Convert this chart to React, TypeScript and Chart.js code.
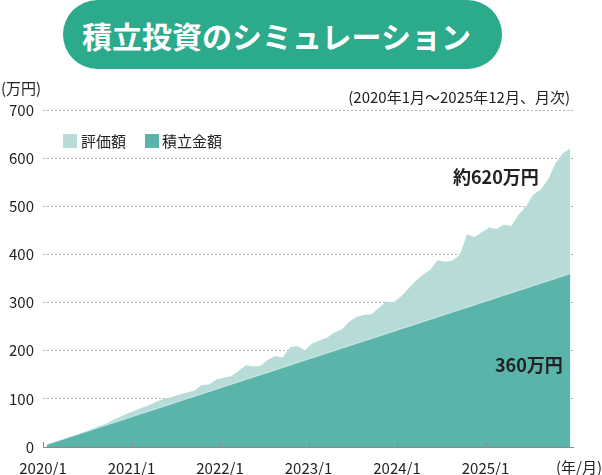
import React, { useEffect, useRef } from "react";
import { Chart, registerables } from "chart.js";

Chart.register(...registerables);

const FONT = '"Noto Sans CJK JP", "Noto Sans", sans-serif';

const TITLE = "積立投資のシミュレーション";
const UNIT_LABEL = "(万円)";
const PERIOD_LABEL = "(2020年1月～2025年12月、月次)";
const X_UNIT_LABEL = "(年/月)";
const SERIES_NAMES = ["評価額", "積立金額"];
const VALUATION_NOTE = "約620万円";
const ACCUMULATED_NOTE = "360万円";

const YEAR_TICK_LABELS = ["2020/1", "2021/1", "2022/1", "2023/1", "2024/1", "2025/1"];
const YEAR_TICK_MONTH_INDEX = [0, 12, 24, 36, 48, 60];

const Y_MIN = 0;
const Y_MAX = 700;
const Y_STEP = 100;

// 積立金額 (万円), monthly 2020/1 .. 2025/12
const ACCUMULATED = [
  5, 10, 15, 20, 25, 30, 35, 40, 45, 50, 55, 60,
  65, 70, 75, 80, 85, 90, 95, 100, 105, 110, 115, 120,
  125, 130, 135, 140, 145, 150, 155, 160, 165, 170, 175, 180,
  185, 190, 195, 200, 205, 210, 215, 220, 225, 230, 235, 240,
  245, 250, 255, 260, 265, 270, 275, 280, 285, 290, 295, 300,
  305, 310, 315, 320, 325, 330, 335, 340, 345, 350, 355, 360,
];

// 評価額 (万円), monthly 2020/1 .. 2025/12
const VALUATION = [
  5, 10, 15, 20, 25, 31, 37, 43, 48, 56, 63, 70,
  76, 82, 88, 95, 100, 104, 109, 113, 117, 129, 130, 140,
  144, 147, 158, 170, 167, 169, 181, 189, 186, 207, 210, 201,
  215, 221, 227, 238, 244, 260, 270, 274, 276, 288, 302, 300,
  312, 328, 345, 358, 368, 388, 385, 387, 399, 442, 436, 446,
  456, 453, 462, 459, 483, 500, 525, 535, 556, 590, 610, 620,
];

const LIGHT = "#b7dcd7";
const DARK = "#5bb4aa";
const TITLE_BG = "#2bab8b";
const TEXT = "#222222";

const overlayPlugin = {
  id: "overlay",
  afterDatasetsDraw(chart: any) {
    const { ctx, chartArea, scales } = chart;
    const x = scales.x;
    ctx.save();
    ctx.strokeStyle = "#8a8a8a";
    ctx.lineWidth = 1.2;
    ctx.beginPath();
    ctx.moveTo(chartArea.left, chartArea.bottom + 0.5);
    ctx.lineTo(chartArea.right, chartArea.bottom + 0.5);
    ctx.stroke();
    ctx.lineWidth = 1;
    YEAR_TICK_MONTH_INDEX.forEach((m) => {
      const px = Math.round(x.getPixelForValue(m - 0.5)) + 0.5;
      ctx.beginPath();
      ctx.moveTo(px, chartArea.bottom);
      ctx.lineTo(px, chartArea.bottom - 5);
      ctx.stroke();
    });
    ctx.restore();
  },
  afterDraw(chart: any) {
    const { ctx } = chart;
    ctx.save();
    ctx.fillStyle = TEXT;
    ctx.textBaseline = "middle";
    ctx.font = `15px ${FONT}`;
    ctx.textAlign = "left";
    ctx.fillText(UNIT_LABEL, 1, 88);
    ctx.textAlign = "right";
    ctx.fillText(PERIOD_LABEL, 570, 97);
    ctx.fillText(X_UNIT_LABEL, 602, 467);

    ctx.textAlign = "left";
    ctx.fillStyle = LIGHT;
    ctx.fillRect(63, 134, 14, 14);
    ctx.fillStyle = DARK;
    ctx.fillRect(145, 134, 14, 14);
    ctx.fillStyle = TEXT;
    ctx.fillText(SERIES_NAMES[0], 81, 141.5);
    ctx.fillText(SERIES_NAMES[1], 162, 141.5);

    ctx.font = `bold 18px ${FONT}`;
    ctx.fillText(VALUATION_NOTE, 453, 177);
    ctx.fillText(ACCUMULATED_NOTE, 495, 365);
    ctx.restore();
  },
};

function ChartCanvas() {
  const ref = useRef<HTMLCanvasElement | null>(null);
  useEffect(() => {
    if (!ref.current) return;
    const chart = new Chart(ref.current, {
      type: "line",
      data: {
        datasets: [
          {
            label: SERIES_NAMES[1],
            data: ACCUMULATED.map((y, i) => ({ x: i, y })),
            fill: "origin",
            backgroundColor: DARK,
            borderColor: "rgba(255,255,255,0.55)",
            borderWidth: 1,
            pointRadius: 0,
            tension: 0,
            order: 0,
          },
          {
            label: SERIES_NAMES[0],
            data: VALUATION.map((y, i) => ({ x: i, y })),
            fill: "origin",
            backgroundColor: LIGHT,
            borderColor: LIGHT,
            borderWidth: 0,
            pointRadius: 0,
            tension: 0,
            order: 1,
          },
        ],
      },
      options: {
        responsive: false,
        animation: false,
        devicePixelRatio: 1,
        layout: { padding: { top: 110, left: 0, right: 28, bottom: 0 } },
        plugins: { legend: { display: false }, tooltip: { enabled: false } },
        scales: {
          x: {
            type: "linear",
            min: -0.5,
            max: 71.5,
            grid: { display: false, drawTicks: false },
            border: { display: false },
            afterBuildTicks: (s: any) => {
              s.ticks = YEAR_TICK_MONTH_INDEX.map((m) => ({ value: m - 0.5 }));
            },
            afterFit: (s: any) => {
              s.height = 28;
            },
            ticks: {
              autoSkip: false,
              maxRotation: 0,
              padding: 12,
              color: TEXT,
              font: { size: 15, family: FONT },
              callback: (_v: any, idx: number) => YEAR_TICK_LABELS[idx],
            },
          },
          y: {
            min: Y_MIN,
            max: Y_MAX,
            afterFit: (s: any) => {
              s.width = 43;
            },
            ticks: {
              stepSize: Y_STEP,
              padding: 9,
              color: TEXT,
              font: { size: 15, family: FONT },
            },
            grid: {
              drawTicks: false,
              lineWidth: 1,
              color: (c: any) => (c.tick && c.tick.value === 0 ? "rgba(0,0,0,0)" : "#b3b3b3"),
            },
            border: { display: false, dash: [2, 2] },
          },
        },
      },
      plugins: [overlayPlugin],
    } as any);
    return () => chart.destroy();
  }, []);
  return <canvas ref={ref} width={602} height={475} style={{ display: "block" }} />;
}

export default function App() {
  return (
    <div
      style={{
        position: "fixed",
        left: 0,
        top: 0,
        width: 602,
        height: 475,
        background: "#ffffff",
        fontFamily: FONT,
      }}
    >
      <ChartCanvas />
      <div
        style={{
          position: "absolute",
          left: 63,
          top: 0,
          width: 439,
          height: 69,
          borderRadius: 35,
          background: TITLE_BG,
          color: "#ffffff",
          fontWeight: 700,
          fontSize: 30,
          display: "flex",
          alignItems: "center",
          justifyContent: "center",
          paddingRight: 12,
          boxSizing: "border-box",
          whiteSpace: "nowrap",
        }}
      >
        {TITLE}
      </div>
    </div>
  );
}
